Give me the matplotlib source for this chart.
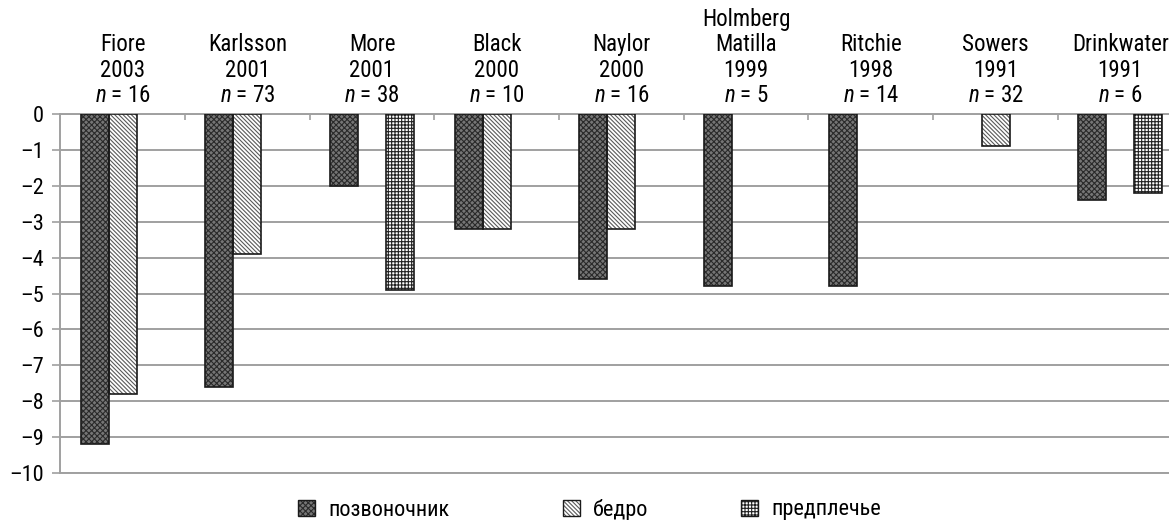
import matplotlib
matplotlib.use("Agg")
import matplotlib.pyplot as plt
import numpy as np
from matplotlib.patches import Patch
from matplotlib.legend_handler import HandlerTuple

FONT = ['Roboto Condensed', 'PT Sans Narrow', 'DejaVu Sans']
plt.rcParams['font.family'] = FONT
plt.rcParams['mathtext.fontset'] = 'custom'
plt.rcParams['mathtext.rm'] = 'Roboto Condensed'
plt.rcParams['mathtext.it'] = 'Roboto Condensed:italic'
plt.rcParams['hatch.linewidth'] = 0.8

# ---- data ----
studies = ["Fiore\n2003", "Karlsson\n2001", "More\n2001", "Black\n2000", "Naylor\n2000",
           "Holmberg\nMatilla\n1999", "Ritchie\n1998", "Sowers\n1991", "Drinkwater\n1991"]
n_values = [16, 73, 38, 10, 16, 5, 14, 32, 6]
series_names = ["позвоночник", "бедро", "предплечье"]
spine = [-9.2, -7.6, -2.0, -3.2, -4.6, -4.8, -4.8, np.nan, -2.4]
hip = [-7.8, -3.9, np.nan, -3.2, -3.2, np.nan, np.nan, -0.9, np.nan]
forearm = [np.nan, np.nan, -4.9, np.nan, np.nan, np.nan, np.nan, np.nan, -2.2]
yticks = list(range(0, -11, -1))

series = [spine, hip, forearm]
faces = ['#767676', 'white', 'white']
hatches = ['xxxxxx', '\\' * 8, '+++++']
hcolors = ['#2a2a2a', '#5a5a5a', '#222222']
FS_CAT = 16.5
FS = 16

W, H = 1169, 520
fig = plt.figure(figsize=(W / 100, H / 100), dpi=100)
ax = fig.add_axes([60.3 / W, 1 - 473 / H, (1182.6 - 60.3) / W, (473 - 114) / H])

x = np.arange(len(studies))
bw = 0.225
offsets = [-bw, 0, bw]
handles = []
for vals, off, fc, ht, hc in zip(series, offsets, faces, hatches, hcolors):
    v = np.array(vals, dtype=float)
    m = ~np.isnan(v)
    ax.bar(x[m] + off, v[m], width=bw, color=fc, hatch=ht, edgecolor=hc,
           linewidth=0, zorder=3)
    ax.bar(x[m] + off, v[m], width=bw, fill=False, edgecolor='#1a1a1a',
           linewidth=1.2, zorder=4)
    handles.append((Patch(facecolor=fc, hatch=ht, edgecolor=hc, linewidth=0),
                    Patch(fill=False, edgecolor='#1a1a1a', linewidth=1.0)))

ax.set_xlim(-0.5, len(studies) - 0.5)
ax.set_ylim(-10, 0)
ax.set_yticks(yticks)
ax.set_yticklabels([("\u2013" + str(-t)) if t < 0 else str(t) for t in yticks])
ax.yaxis.grid(True, color='#a0a0a0', linewidth=1.4, zorder=0)
ax.set_axisbelow(True)

ax.set_xticks(x[:-1] + 0.5)
ax.set_xticklabels([])
ax.xaxis.set_ticks_position('top')
ax.tick_params(axis='x', direction='in', length=4, color='#a0a0a0', width=1.2)
ax.tick_params(axis='y', direction='out', length=6, color='#a0a0a0', width=1.2,
               pad=6, labelsize=FS)

for s in ['top', 'bottom', 'left']:
    ax.spines[s].set_color('#a0a0a0')
    ax.spines[s].set_linewidth(1.4)
ax.spines['right'].set_visible(False)

for xi, name, n in zip(x, studies, n_values):
    ax.annotate(name + "\n" + f"$n$ = {n}", xy=(xi, 0), xytext=(0, 5),
                textcoords='offset points', ha='center', va='bottom',
                fontsize=FS_CAT, linespacing=1.13, annotation_clip=False)

legend_x = [298, 563, 741]
for h, lab, lx in zip(handles, series_names, legend_x):
    fig.legend([h], [lab], loc='center left', bbox_to_anchor=(lx / W, 1 - 510 / H),
               frameon=False, fontsize=FS, handlelength=0.75, handleheight=0.75,
               handletextpad=0.6, borderpad=0, borderaxespad=0,
               handler_map={tuple: HandlerTuple(ndivide=1)})

fig.savefig('out.png', dpi=100)
